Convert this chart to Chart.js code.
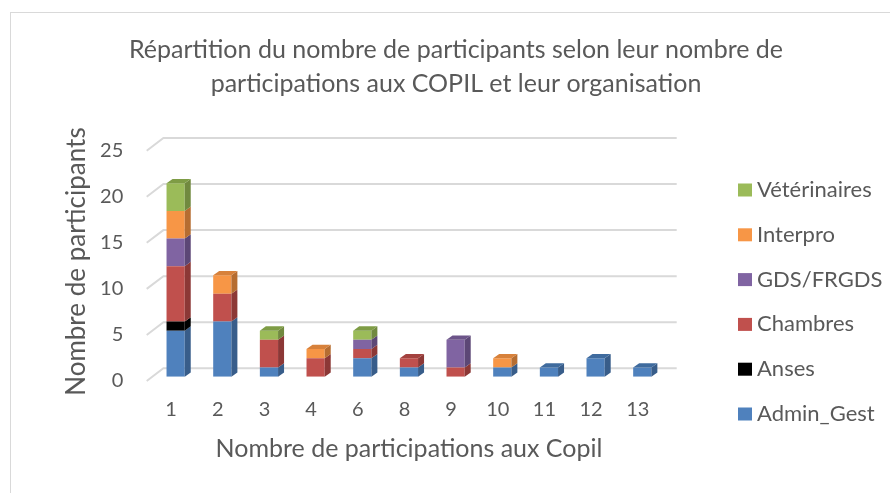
<!DOCTYPE html>
<html>
<head>
<meta charset="utf-8">
<script src="https://cdn.jsdelivr.net/npm/chart.js@4.4.0/dist/chart.umd.min.js"></script>
<style>
  html, body { margin: 0; padding: 0; background: #fff; overflow: hidden; }
  canvas { display: block; }
</style>
</head>
<body>
<canvas id="chart" width="890" height="493"></canvas>
<script>
// participations per person, one array per organisation (stacked bottom -> top)
const categories   = ["1", "2", "3", "4", "6", "8", "9", "10", "11", "12", "13"];
const adminGest    = [5, 6, 1, 0, 2, 1, 0, 1, 1, 2, 1];
const anses        = [1, 0, 0, 0, 0, 0, 0, 0, 0, 0, 0];
const chambres     = [6, 3, 3, 2, 1, 1, 1, 0, 0, 0, 0];
const gdsFrgds     = [3, 0, 0, 0, 1, 0, 3, 0, 0, 0, 0];
const interpro     = [3, 2, 0, 1, 0, 0, 0, 1, 0, 0, 0];
const veterinaires = [3, 0, 1, 0, 1, 0, 0, 0, 0, 0, 0];
const yTicks = [0, 5, 10, 15, 20, 25];

const FONT = "Lato";
const TXT = "#595959";

// front / side / top colours of the pseudo 3D columns
const series = [
  { label: "Admin_Gest",   data: adminGest,    front: "#4F81BD", side: "#385D8A", top: "#3F6B9E" },
  { label: "Anses",        data: anses,        front: "#000000", side: "#000000", top: "#111111" },
  { label: "Chambres",     data: chambres,     front: "#C0504D", side: "#8C3836", top: "#A3423F" },
  { label: "GDS/FRGDS",    data: gdsFrgds,     front: "#8064A2", side: "#5C4776", top: "#6C5489" },
  { label: "Interpro",     data: interpro,     front: "#F79646", side: "#B66D31", top: "#D7813B" },
  { label: "Vétérinaires", data: veterinaires, front: "#9BBB59", side: "#71893F", top: "#7E9C45" }
];

// depth of the floor / walls and of the columns
const FLOOR = { dx: 16.7, dy: -12.7 };
const BAR_SHIFT = { dx: 5.6, dy: -4.3 };   // columns sit behind the front plane
const BAR_DEPTH = { dx: 6, dy: -4.3 };

// legend column on the right, top entry first
const LEGEND = { x: 738, y: 190, step: 44.8, box: 14, boxH: 13, gap: 5, size: 22 };

const depth3d = {
  id: "depth3d",
  beforeDraw(chart) {
    const ctx = chart.ctx;
    ctx.save();
    ctx.strokeStyle = "#d9d9d9";
    ctx.lineWidth = 1;
    ctx.strokeRect(10.5, 12.5, 2000, 2000);
    ctx.restore();
  },
  beforeDatasetsDraw(chart) {
    const { ctx, chartArea, scales } = chart;
    const y = scales.y;
    const left = chartArea.left - BAR_SHIFT.dx;
    const right = chartArea.right - BAR_SHIFT.dx;
    ctx.save();
    ctx.strokeStyle = "#d9d9d9";
    ctx.lineWidth = 2;
    yTicks.forEach(v => {
      const fy = y.getPixelForValue(v) - BAR_SHIFT.dy;
      const by = fy + FLOOR.dy;
      ctx.beginPath();
      ctx.moveTo(left, fy);
      ctx.lineTo(left + FLOOR.dx, by);
      ctx.lineTo(right + FLOOR.dx, by);
      ctx.stroke();
    });
    ctx.restore();
  },
  afterDatasetsDraw(chart) {
    const ctx = chart.ctx;
    const metas = chart.data.datasets.map((d, i) => chart.getDatasetMeta(i));
    ctx.save();
    categories.forEach((c, i) => {
      let topIdx = -1;
      metas.forEach((meta, di) => {
        const bar = meta.data[i];
        if (!bar) return;
        const p = bar.getProps(["x", "y", "base", "width"], true);
        if (Math.abs(p.base - p.y) < 0.5) return;
        topIdx = di;
        const r = p.x + p.width / 2;
        ctx.fillStyle = series[di].side;
        ctx.beginPath();
        ctx.moveTo(r, p.y);
        ctx.lineTo(r + BAR_DEPTH.dx, p.y + BAR_DEPTH.dy);
        ctx.lineTo(r + BAR_DEPTH.dx, p.base + BAR_DEPTH.dy);
        ctx.lineTo(r, p.base);
        ctx.closePath();
        ctx.fill();
      });
      if (topIdx < 0) return;
      const p = metas[topIdx].data[i].getProps(["x", "y", "base", "width"], true);
      const l = p.x - p.width / 2, r = p.x + p.width / 2;
      ctx.fillStyle = series[topIdx].top;
      ctx.beginPath();
      ctx.moveTo(l, p.y);
      ctx.lineTo(l + BAR_DEPTH.dx, p.y + BAR_DEPTH.dy);
      ctx.lineTo(r + BAR_DEPTH.dx, p.y + BAR_DEPTH.dy);
      ctx.lineTo(r, p.y);
      ctx.closePath();
      ctx.fill();
    });
    ctx.restore();
  },
  afterDraw(chart) {
    const ctx = chart.ctx;
    const sets = chart.data.datasets.slice().reverse();
    ctx.save();
    ctx.font = LEGEND.size + "px " + FONT;
    ctx.textBaseline = "middle";
    ctx.textAlign = "left";
    sets.forEach((ds, k) => {
      const cy = LEGEND.y + k * LEGEND.step;
      ctx.fillStyle = ds.backgroundColor;
      ctx.fillRect(LEGEND.x, cy - LEGEND.boxH / 2, LEGEND.box, LEGEND.boxH);
      ctx.fillStyle = TXT;
      ctx.fillText(ds.label, LEGEND.x + LEGEND.box + LEGEND.gap, cy);
    });
    ctx.restore();
  }
};

new Chart(document.getElementById("chart"), {
  type: "bar",
  data: {
    labels: categories,
    datasets: series.map(s => ({
      label: s.label,
      data: s.data,
      backgroundColor: s.front,
      borderWidth: 0,
      categoryPercentage: 0.78,
      barPercentage: 0.5
    }))
  },
  options: {
    responsive: false,
    animation: false,
    devicePixelRatio: 1,
    layout: { padding: { left: 33, right: 11, top: 0, bottom: 0 } },
    plugins: {
      title: {
        display: true,
        text: ["Répartition du nombre de participants selon leur nombre de",
               "participations aux COPIL et leur organisation"],
        color: TXT,
        font: { family: FONT, size: 25, weight: "normal", lineHeight: 34 / 25 },
        padding: { top: 33, bottom: 45.4 }
      },
      legend: { display: false },
      tooltip: { enabled: false }
    },
    scales: {
      x: {
        stacked: true,
        grid: { display: false, drawTicks: false },
        border: { display: false },
        ticks: { color: TXT, font: { family: FONT, size: 20 }, labelOffset: -4.5, padding: 21.3 },
        title: {
          display: true,
          text: "Nombre de participations aux Copil",
          color: TXT,
          font: { family: FONT, size: 25 },
          padding: { top: 0, bottom: 29 }
        },
        afterFit: s => { s.height = 116.3; }
      },
      y: {
        stacked: true,
        min: 0,
        max: 25,
        grid: { display: false, drawTicks: false },
        border: { display: false },
        ticks: { color: TXT, font: { family: FONT, size: 20 }, padding: 29, labelOffset: 4.3, autoSkip: false },
        afterBuildTicks: s => { s.ticks = yTicks.map(v => ({ value: v })); },
        title: {
          display: true,
          text: "Nombre de participants",
          color: TXT,
          font: { family: FONT, size: 26 },
          padding: { top: 28.4, bottom: 0 }
        },
        afterFit: s => { s.width = 152.3 - 33; }
      },
      // empty band on the right that holds the legend
      legendBand: {
        position: "right",
        display: true,
        grid: { display: false, drawTicks: false },
        border: { display: false },
        ticks: { display: false },
        afterFit: s => { s.width = 879 - 665.6; }
      }
    }
  },
  plugins: [depth3d]
});
</script>
</body>
</html>
